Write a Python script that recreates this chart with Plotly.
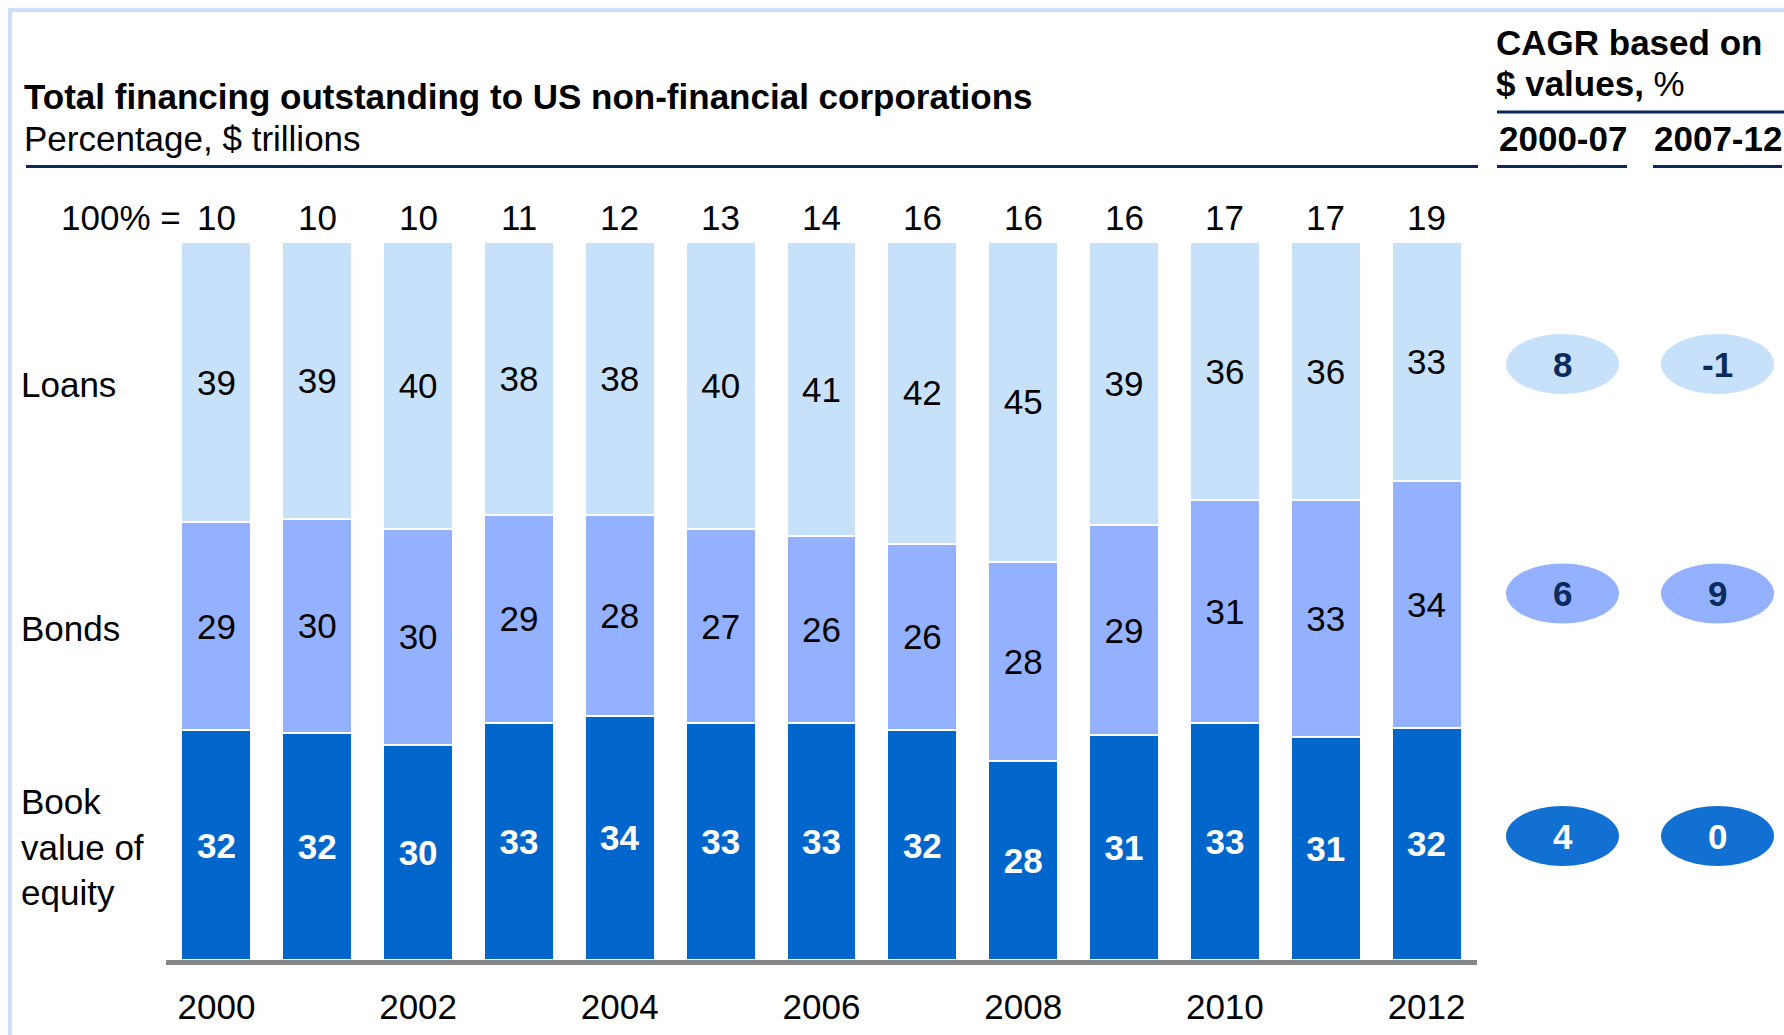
import plotly.graph_objects as go

years = [2000, 2001, 2002, 2003, 2004, 2005, 2006, 2007, 2008, 2009, 2010, 2011, 2012]
totals = [10, 10, 10, 11, 12, 13, 14, 16, 16, 16, 17, 17, 19]
loans = [39, 39, 40, 38, 38, 40, 41, 42, 45, 39, 36, 36, 33]
bonds = [29, 30, 30, 29, 28, 27, 26, 26, 28, 29, 31, 33, 34]
equity = [32, 32, 30, 33, 34, 33, 33, 32, 28, 31, 33, 31, 32]
year_ticks = [2000, 2002, 2004, 2006, 2008, 2010, 2012]

row_labels = ["Loans", "Bonds", "Book<br>value of<br>equity"]
cagr_periods = ["2000-07", "2007-12"]
cagr_2000_07 = [8, 6, 4]
cagr_2007_12 = [-1, 9, 0]

title = "Total financing outstanding to US non-financial corporations"
subtitle = "Percentage, $ trillions"

FONT = "Liberation Sans, Arial, Helvetica, sans-serif"
FS = 35
C_LOANS = "#C8E1FB"
C_BONDS = "#93B1FF"
C_EQUITY = "#0066CC"
C_EQ_ELL = "#1170D2"
NAVY = "#0B2B5C"
FRAME = "#CDE0F8"

# plot area geometry (px)
L, R, T, B = 166, 307, 242, 75
W, H = 1784, 1035
PW, PH = W - L - R, H - T - B


def px(xp):
    return (xp - L) / PW


def py(yp):
    return (H - B - yp) / PH


fig = go.Figure()
for vals, color, tcolor, weight, name in [
    (equity, C_EQUITY, "white", "bold", "Book value of equity"),
    (bonds, C_BONDS, "black", "normal", "Bonds"),
    (loans, C_LOANS, "black", "normal", "Loans"),
]:
    fig.add_trace(go.Bar(
        x=years, y=vals, name=name, text=vals, texttemplate="%{text}",
        textposition="inside", insidetextanchor="middle", textangle=0,
        textfont=dict(family=FONT, size=FS, color=tcolor, weight=weight),
        marker=dict(color=color, line=dict(color="white", width=2)),
        hoverinfo="skip",
    ))

ann = []
# totals row
ann.append(dict(x=px(183), y=py(217.5), xref="paper", yref="paper", text="100% =",
                xanchor="right", yanchor="middle", showarrow=False,
                font=dict(family=FONT, size=FS, color="black")))
for yr, tot in zip(years, totals):
    ann.append(dict(x=yr, y=py(217.5), xref="x", yref="paper", text=str(tot),
                    xanchor="center", yanchor="middle", showarrow=False,
                    font=dict(family=FONT, size=FS, color="black")))
# title
ann.append(dict(x=px(22), y=py(97), xref="paper", yref="paper", text="<b>" + title + "</b>",
                xanchor="left", yanchor="middle", showarrow=False,
                font=dict(family=FONT, size=FS, color="black")))
ann.append(dict(x=px(22), y=py(139), xref="paper", yref="paper", text=subtitle,
                xanchor="left", yanchor="middle", showarrow=False,
                font=dict(family=FONT, size=FS, color="black")))
# CAGR header
ann.append(dict(x=px(1494), y=py(42), xref="paper", yref="paper", text="<b>CAGR based on</b>",
                xanchor="left", yanchor="middle", showarrow=False,
                font=dict(family=FONT, size=FS, color="black")))
ann.append(dict(x=px(1494), y=py(83), xref="paper", yref="paper", text="<b>$ values,</b> %",
                xanchor="left", yanchor="middle", showarrow=False,
                font=dict(family=FONT, size=FS, color="black")))
col_x = [1562.5, 1717.5]
for cx, per in zip(col_x, cagr_periods):
    ann.append(dict(x=px(cx), y=py(139), xref="paper", yref="paper", text="<b>" + per + "</b>",
                    xanchor="center", yanchor="middle", showarrow=False,
                    font=dict(family=FONT, size=FS, color="black")))

# row labels
row_y = [384, 628, 847]
for lab, ry in zip(row_labels, row_y):
    ann.append(dict(x=px(19), y=py(ry), xref="paper", yref="paper", text=lab,
                    xanchor="left", yanchor="middle", align="left", showarrow=False,
                    font=dict(family=FONT, size=FS, color="black")))

shapes = []
# frame
shapes.append(dict(type="line", xref="paper", yref="paper", x0=px(10), x1=px(W), y0=py(10), y1=py(10),
                   line=dict(color=FRAME, width=4)))
shapes.append(dict(type="line", xref="paper", yref="paper", x0=px(10), x1=px(10), y0=py(8), y1=py(H),
                   line=dict(color=FRAME, width=4)))
# rules
shapes.append(dict(type="line", xref="paper", yref="paper", x0=px(26), x1=px(1478), y0=py(166.5), y1=py(166.5),
                   line=dict(color=NAVY, width=3)))
shapes.append(dict(type="line", xref="paper", yref="paper", x0=px(1497), x1=px(W), y0=py(112), y1=py(112),
                   line=dict(color=NAVY, width=3)))
shapes.append(dict(type="line", xref="paper", yref="paper", x0=px(1497), x1=px(1627), y0=py(166.5), y1=py(166.5),
                   line=dict(color=NAVY, width=3)))
shapes.append(dict(type="line", xref="paper", yref="paper", x0=px(1653), x1=px(1782), y0=py(166.5), y1=py(166.5),
                   line=dict(color=NAVY, width=3)))

# CAGR ellipses
ell_y = [364, 593.5, 836]
ell_fill = [C_LOANS, C_BONDS, C_EQ_ELL]
ell_txt = [NAVY, NAVY, "white"]
for cx, col in zip(col_x, [cagr_2000_07, cagr_2007_12]):
    for ey, v, fc, tc in zip(ell_y, col, ell_fill, ell_txt):
        shapes.append(dict(type="circle", xref="paper", yref="paper",
                           xsizemode="pixel", ysizemode="pixel",
                           xanchor=px(cx), yanchor=py(ey),
                           x0=-56.5, x1=56.5, y0=-30, y1=30,
                           fillcolor=fc, line=dict(width=0), layer="above"))
        ann.append(dict(x=px(cx), y=py(ey), xref="paper", yref="paper", text="<b>%d</b>" % v,
                        xanchor="center", yanchor="middle", showarrow=False,
                        font=dict(family=FONT, size=FS, color=tc)))

fig.update_layout(
    width=W, height=H,
    margin=dict(l=L, r=R, t=T, b=B, pad=0, autoexpand=False),
    paper_bgcolor="white", plot_bgcolor="white",
    barmode="stack", barnorm="percent", bargap=0.306,
    showlegend=False,
    font=dict(family=FONT, size=FS, color="black"),
    xaxis=dict(range=[1999.5, 2012.5], tickvals=year_ticks, ticktext=[str(t) for t in year_ticks],
               showline=True, linecolor="#878787", linewidth=5, showgrid=False, zeroline=False,
               ticks="", tickfont=dict(family=FONT, size=FS, color="black"), ticklabelstandoff=12,
               automargin=False, fixedrange=True),
    yaxis=dict(range=[0, 100], visible=False, automargin=False, fixedrange=True),
    annotations=ann, shapes=shapes,
)

fig.write_html(
    "out.html",
    config={"displayModeBar": False},
    post_script="document.body.style.margin='0px';document.body.style.overflow='hidden';",
)
